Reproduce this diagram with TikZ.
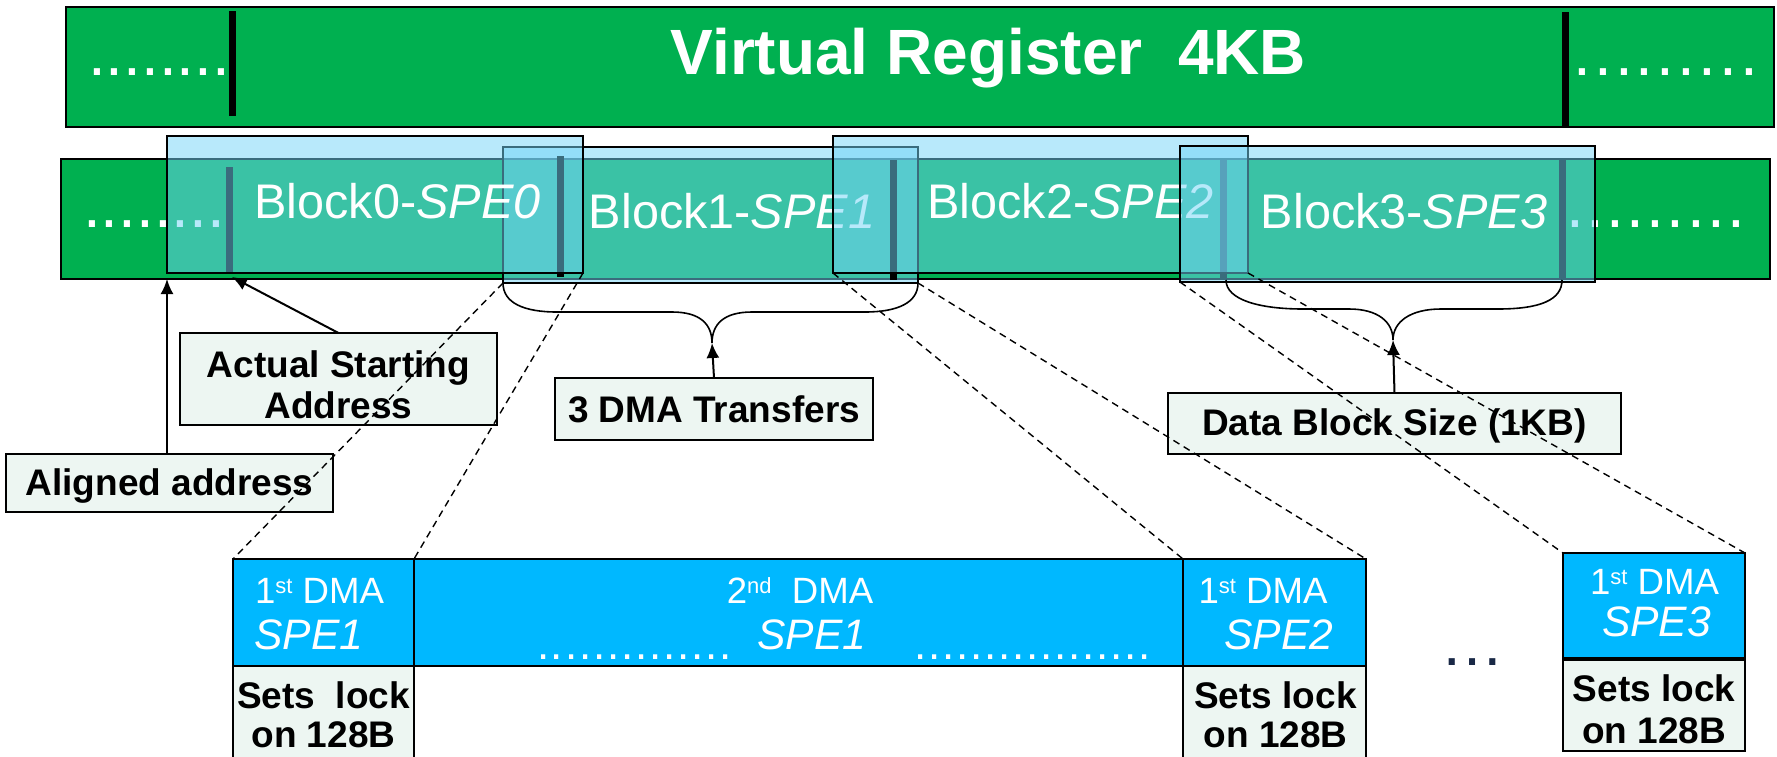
\documentclass[tikz,border=0pt]{standalone}
\usepackage{fontspec}
\setmainfont{Liberation Sans}
\usetikzlibrary{arrows.meta,fit}

\definecolor{regGreen}{RGB}{0,176,80}
\definecolor{blockTint}{RGB}{115,212,247}
\definecolor{dmaBlue}{RGB}{0,184,255}
\definecolor{noteFill}{RGB}{237,246,242}
\definecolor{dotNavy}{RGB}{25,40,70}

\newcommand\fsz[1]{\fontsize{#1pt}{#1pt}\selectfont}
\newcommand\dotrun[2]{\foreach\k in {1,...,#1}{.\kern#2}}
\newcommand\ordsup[1]{\raisebox{5pt}{\fontsize{11pt}{11pt}\selectfont#1}}

\tikzset{
  bar/.style={draw=black, line width=0.75pt, fill=regGreen, inner sep=0pt, outer sep=0pt},
  blockbox/.style={draw=black, line width=1pt, fill=blockTint, fill opacity=0.51, inner sep=0pt, outer sep=0pt},
  markline/.style={line width=3.5pt, black},
  notebox/.style={draw=black, line width=1pt, fill=noteFill, inner sep=0pt, outer sep=0pt},
  dmabox/.style={draw=black, line width=1.2pt, fill=dmaBlue, inner sep=0pt, outer sep=0pt},
  lockbox/.style={draw=black, line width=1pt, fill=noteFill, inner sep=0pt, outer sep=0pt},
  txt/.style={inner sep=0pt, outer sep=0pt, anchor=base},
  titletext/.style={txt, text=white, font=\fsz{32}\bfseries},
  blklabel/.style={txt, text=white, font=\fsz{24.3}},
  notetext/.style={txt, font=\fsz{18.5}\bfseries},
  dmatext/.style={txt, text=white, font=\fsz{18.3}},
  spetext/.style={txt, text=white, font=\fsz{21.3}\itshape},
  dotrow/.style={inner sep=0pt, outer sep=0pt, anchor=base west, text=white},
  bracecurve/.style={line width=0.8pt},
  pointer/.style={line width=1pt, -{Latex[length=7.5pt,width=6.5pt]}},
  guide/.style={line width=0.7pt, dash pattern=on 3.5pt off 2.5pt},
}

\begin{document}
\begin{tikzpicture}[x=0.5pt,y=-0.5pt]
\useasboundingbox (0,0) rectangle (1777,756);
\clip (0,0) rectangle (1777,756);

% virtual register
\node[bar, fit={(66,7) (1774,127)}] (vreg) {};
\draw[markline] (232.5,11) -- (232.5,116);
\draw[markline] (1565,12) -- (1565,127);
\node[dotrow, font=\fsz{32}] (vdotsL) at (88,75) {\dotrun{8}{0pt}};
\node[dotrow, font=\fsz{32}] (vdotsR) at (1573,75) {\dotrun{9}{1.6pt}};
\node[titletext] (vtitle) at (988.5,74) {Virtual Register~~4KB};

% local store with the four SPE blocks
\node[bar, fit={(61,159) (1770,279)}] (ls) {};
\node[dotrow, font=\fsz{32}] (lsdotsL) at (83,227) {\dotrun{8}{0pt}};
\node[dotrow, font=\fsz{32}] (lsdotsR) at (1566,227) {\dotrun{9}{1.2pt}};

\node[blockbox, fit={(503,147) (918,283)}] (block1) {};
\draw[markline] (229,167) -- (229,273);
\draw[markline] (560,156) -- (560,277);
\draw[markline] (893,160) -- (893,280);
\draw[markline] (1223,160) -- (1223,278);
\draw[markline] (1562,160) -- (1562,279);
\node[blockbox, fit={(167,136) (583,273)}] (block0) {};
\node[blklabel] (lab0) at (397.5,218) {Block0-\textit{SPE0}};
\node[blklabel] (lab1) at (732,228) {Block1-\textit{SPE1}};
\node[blockbox, fit={(833,136) (1248,273)}] (block2) {};
\node[blklabel] (lab2) at (1070.5,218) {Block2-\textit{SPE2}};
\node[blockbox, fit={(1180,146) (1595,282)}] (block3) {};
\node[blklabel] (lab3) at (1404,228) {Block3-\textit{SPE3}};

% braces
\coordinate (tip1) at (712,343);
\coordinate (tip2) at (1393,340);
\draw[bracecurve] (block1.south west) .. controls (503,303) and (524,312) .. (557,312)
  -- (672,312) .. controls (700,312) and (712,324) .. (tip1)
  .. controls (712,324) and (724,312) .. (752,312)
  -- (865,312) .. controls (897,312) and (918,303) .. (block1.south east);
\draw[bracecurve] (1226,280) .. controls (1226,300) and (1260,309) .. (1303,309)
  -- (1349,309) .. controls (1378,309) and (1393,322) .. (tip2)
  .. controls (1393,322) and (1410,309) .. (1441,309)
  -- (1498,309) .. controls (1540,309) and (1562,300) .. (1562,280);

% annotation boxes
\node[notebox, fit={(180,333) (497,425)}] (actual) {};
\node[notetext] (actualA) at (338.5,377) {Actual Starting};
\node[notetext] (actualB) at (338.5,418) {Address};
\node[notebox, fit={(6,454) (333,512)}] (aligned) {};
\node[notetext] (alignedT) at (169.5,495) {Aligned address};
\node[notebox, fit={(555,378) (873,440)}] (dma3) {};
\node[notetext] (dma3T) at (714,422) {3 DMA Transfers};
\node[notebox, fit={(1168,393) (1621,454)}] (dbs) {};
\node[notetext] (dbsT) at (1394.5,435) {Data Block Size (1KB)};

\coordinate (startAddr) at (232,277);
\coordinate (alignAddr) at (167,279);
\draw[pointer] (actual.north) -- (startAddr);
\draw[pointer] (aligned.north -| alignAddr) -- (alignAddr);
\draw[pointer] (dma3.north) -- (tip1);
\draw[pointer] (dbs.north) -- (tip2);

% DMA transfers
\node[dmabox, fit={(233,559) (414,666)}] (d1) {};
\node[dmabox, fit={(414,559) (1183,666)}] (d2) {};
\node[dmabox, fit={(1183,559) (1366,666)}] (d3) {};
\node[dmabox, fit={(1563,553) (1745,658)}] (d4) {};
\node[lockbox, fit={(233,666) (414,770)}] (lock1) {};
\node[lockbox, fit={(1183,666) (1366,770)}] (lock2) {};
\node[lockbox, fit={(1563,660) (1745,751)}] (lock3) {};

\node[dmatext] (d1a) at (319.5,603) {1\ordsup{st} DMA};
\node[spetext] (d1b) at (309,649) {SPE1};
\node[dmatext] (d2a) at (800,603) {2\ordsup{nd}~~DMA};
\node[spetext] (d2b) at (812,649) {SPE1};
\node[dotrow, font=\fsz{22}] (d2dotsL) at (537,659) {\dotrun{14}{0.9pt}};
\node[dotrow, font=\fsz{22}] (d2dotsR) at (914,659) {\dotrun{17}{0.9pt}};
\node[dmatext] (d3a) at (1263,603) {1\ordsup{st} DMA};
\node[spetext] (d3b) at (1279,649) {SPE2};
\node[dmatext] (d4a) at (1654.5,594) {1\ordsup{st} DMA};
\node[spetext] (d4b) at (1656.5,636) {SPE3};

\node[notetext] (lock1a) at (323.5,708) {Sets~~lock};
\node[notetext] (lock1b) at (323.5,747) {on 128B};
\node[notetext] (lock2a) at (1275.5,708) {Sets lock};
\node[notetext] (lock2b) at (1275.5,747) {on 128B};
\node[notetext] (lock3a) at (1654,701) {Sets lock};
\node[notetext] (lock3b) at (1654,743) {on 128B};

\node[txt, anchor=base west, text=dotNavy, font=\fsz{32}] (more) at (1440.6,665.7) {…};

% guides from block edges to the transfers
\draw[guide] (block1.south west) -- (d1.north west);
\draw[guide] (block0.south east) -- (d1.north east);
\draw[guide] (block2.south west) -- (d3.north west);
\draw[guide] (block1.south east) -- (d3.north east);
\draw[guide] (block3.south west) -- (d4.north west);
\draw[guide] (block2.south east) -- (d4.north east);
\end{tikzpicture}
\end{document}
